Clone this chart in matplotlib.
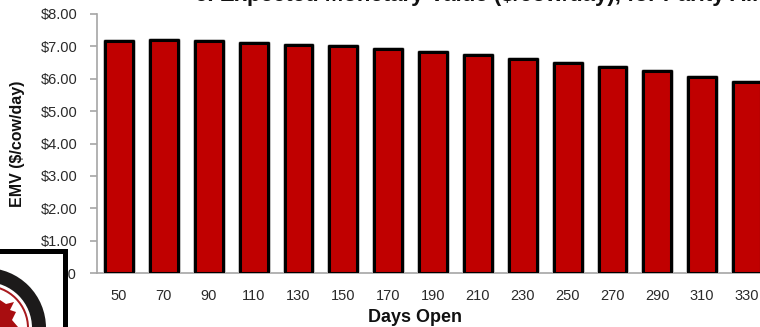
import matplotlib
matplotlib.use("Agg")
import matplotlib.pyplot as plt
import matplotlib.patheffects as pe
from matplotlib.patches import Circle, Rectangle, Polygon

plt.rcParams["font.family"] = ["Liberation Sans", "DejaVu Sans"]

# EMV by days open
days_open = [50, 70, 90, 110, 130, 150, 170, 190, 210, 230, 250, 270, 290, 310, 330]
emv = [7.15, 7.18, 7.15, 7.10, 7.03, 6.99, 6.91, 6.83, 6.72, 6.60, 6.48, 6.37, 6.22, 6.06, 5.90]
y_ticks = [0, 1, 2, 3, 4, 5, 6, 7, 8]
y_tick_labels = ["$0.00", "$1.00", "$2.00", "$3.00", "$4.00", "$5.00", "$6.00", "$7.00", "$8.00"]
title_text = "c. Expected Monetary Value ($/cow/day), for Parity All"

W, H = 760, 327
fig = plt.figure(figsize=(W / 100, H / 100), dpi=100, facecolor="white")

# plot area runs a little past the right edge
left, right, top, bottom = 96.6, 769.5, 13.7, 273.3
ax = fig.add_axes([left / W, 1 - bottom / H, (right - left) / W, (bottom - top) / H])
ax.set_clip_on(False)

bars = ax.bar(range(len(days_open)), emv, width=0.62, color="#c00000",
              edgecolor="black", linewidth=2.2, joinstyle="round", zorder=3)
for b in bars:
    b.set_path_effects([pe.withStroke(linewidth=3.4, foreground="#c4c4c4"), pe.Normal()])

ax.set_xlim(-0.5, len(days_open) - 0.5)
ax.set_ylim(0, 8)
ax.set_yticks(y_ticks)
ax.set_yticklabels(y_tick_labels, fontsize=10.5, color="#2a2a2a")
ax.set_xticks(range(len(days_open)))
ax.set_xticklabels(days_open, fontsize=10.5, color="#2a2a2a")
ax.tick_params(axis="y", length=5, width=1.2, color="#a6a6a6", pad=9)
ax.tick_params(axis="x", length=0, pad=11)

for side in ["top", "right"]:
    ax.spines[side].set_visible(False)
for side in ["left", "bottom"]:
    ax.spines[side].set_color("#a6a6a6")
    ax.spines[side].set_linewidth(1.2)

fig.text(18 / W, 1 - 144 / H, "EMV ($/cow/day)", rotation=90, fontsize=11.5, fontweight="bold",
         ha="center", va="center", color="#111111")
fig.text(415 / W, 1 - 317 / H, "Days Open", fontsize=13, fontweight="bold",
         ha="center", va="center", color="#111111")
fig.text(195 / W, 1 - 1.5 / H, title_text, fontsize=16, fontweight="bold",
         ha="left", va="baseline", color="#111111")

# logo box over the lower left corner, in pixel coordinates
logo = fig.add_axes([0, 0, 1, 1], facecolor="none", zorder=5)
logo.set_xlim(0, W)
logo.set_ylim(H, 0)
logo.axis("off")
logo.add_patch(Rectangle((-10, 250.5), 75, 90, facecolor="white", edgecolor="black", linewidth=3.6))
clip = Rectangle((0, 253), 62, 74, transform=logo.transData)
for radius, color in [(60, "#1c1a1a"), (46, "white"), (43, "#a81a1e"), (41, "white")]:
    c = Circle((-14, 328), radius, facecolor=color, edgecolor="none")
    logo.add_patch(c)
    c.set_clip_path(clip)
star = Polygon([(0, 300), (6, 304), (14, 302), (10, 310), (16, 312), (12, 320),
                (18, 327), (0, 327)], facecolor="#a80d10", edgecolor="none")
logo.add_patch(star)

fig.savefig("out.png", dpi=100)
